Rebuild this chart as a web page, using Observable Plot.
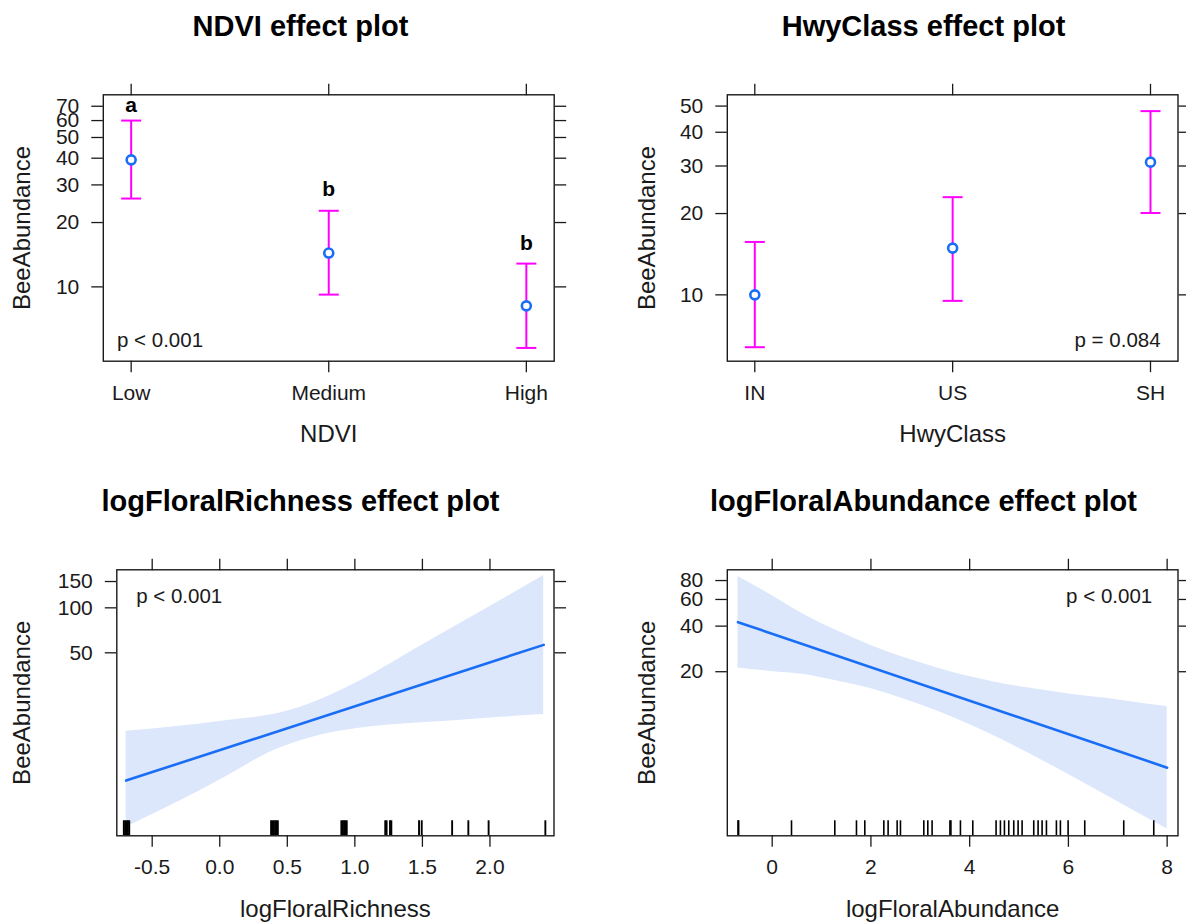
<!DOCTYPE html>
<html>
<head>
<meta charset="utf-8">
<script src="https://cdn.jsdelivr.net/npm/d3@7"></script>
<script src="https://cdn.jsdelivr.net/npm/@observablehq/plot@0.6"></script>
<style>
  html, body { margin: 0; padding: 0; background: #fff; }
  #root { position: relative; width: 1186px; height: 923px; overflow: hidden; background: #fff; }
  .panel { position: absolute; }
</style>
</head>
<body>
<div id="root"></div>
<script>
// ---------------- data ----------------
// NDVI effect plot
const ndviLevels = ["Low", "Medium", "High"];
const ndviFit = [39.3, 14.4, 8.15];
const ndviLower = [25.9, 9.2, 5.18];
const ndviUpper = [60, 22.7, 12.85];
const ndviLetters = ["a", "b", "b"];
const ndviLetterY = [70.6, 28.5, 16.0];
const ndviTicks = [10, 20, 30, 40, 50, 60, 70];
const ndviP = "p < 0.001";

// HwyClass effect plot
const hwyLevels = ["IN", "US", "SH"];
const hwyFit = [10.0, 14.9, 31.0];
const hwyLower = [6.4, 9.5, 20.1];
const hwyUpper = [15.7, 23.0, 47.9];
const hwyTicks = [10, 20, 30, 40, 50];
const hwyP = "p = 0.084";

// logFloralRichness effect plot
const richLineX = [-0.693, 2.398];
const richLineY = [6.98, 56.5];
const richBandX = [-0.693, -0.389, -0.143, 0.104, 0.351, 0.597, 0.844, 1.091, 1.338, 1.584, 1.831, 2.078, 2.398];
const richBandUpper = [14.9, 15.8, 16.7, 17.8, 19.0, 21.6, 26.6, 34.4, 46.3, 62.3, 83.6, 112, 164.6];
const richBandLower = [3.40, 4.63, 5.99, 7.94, 10.6, 12.9, 14.7, 15.9, 16.6, 17.2, 17.8, 18.5, 19.3];
const richRug = [-0.71, -0.70, -0.69, -0.68, -0.67, 0.38, 0.39, 0.40, 0.41, 0.42, 0.43,
  0.90, 0.91, 0.92, 0.93, 0.94, 1.225, 1.235, 1.26, 1.27, 1.475, 1.495, 1.72, 1.84, 1.99, 2.41];
const richXTicks = [-0.5, 0, 0.5, 1, 1.5, 2];
const richYTicks = [50, 100, 150];
const richP = "p < 0.001";

// logFloralAbundance effect plot
const abunLineX = [-0.693, 8.0];
const abunLineY = [42.5, 4.65];
const abunBandX = [-0.693, -0.034, 0.640, 1.316, 1.991, 2.666, 3.342, 4.017, 4.691, 5.368, 6.042, 6.717, 7.393, 8.0];
const abunBandUpper = [85.1, 64.5, 47.8, 37.3, 29.9, 24.8, 21.2, 18.5, 16.6, 15.3, 14.2, 13.4, 12.5, 11.8];
const abunBandLower = [21.2, 20.1, 19.2, 17.4, 15.5, 13.2, 11.0, 8.88, 7.02, 5.41, 4.13, 3.11, 2.35, 1.83];
const abunRug = [-0.693, -0.68, 0.391, 1.268, 1.707, 1.876, 2.261, 2.348, 2.531, 2.598, 3.071, 3.152, 3.239,
  3.60, 3.62, 3.813, 4.063, 4.535, 4.623, 4.704, 4.792, 4.893, 4.981, 5.062, 5.298, 5.386, 5.467, 5.555,
  5.757, 5.838, 5.994, 6.331, 7.121, 7.729];
const abunXTicks = [0, 2, 4, 6, 8];
const abunYTicks = [20, 40, 60, 80];
const abunP = "p < 0.001";

// ---------------- styling ----------------
const FONT = "'Liberation Sans', Arial, Helvetica, sans-serif";
const BLUE = "#1a6ef5";
const BAND = "#dce7fc";
const MAGENTA = "#ff00ff";
const INK = "#1a1a1a";
const baseStyle = {fontFamily: FONT, fontSize: "21px", color: INK, background: "white", overflow: "visible"};

const capSymbol = {draw(ctx, size) { const r = Math.sqrt(size / Math.PI); ctx.moveTo(-r, 0); ctx.lineTo(r, 0); }};

function axes(xTicks, xFormat, yTicks) {
  return [
    Plot.axisX({anchor: "bottom", ticks: xTicks, tickFormat: xFormat, tickSize: 11.5, tickPadding: 12, fontSize: 21, stroke: INK, fill: INK, strokeWidth: 1.3, label: null}),
    Plot.axisX({anchor: "top", ticks: xTicks, tickSize: 11.5, stroke: INK, fill: "none", strokeWidth: 1.3, label: null}),
    Plot.axisY({anchor: "left", ticks: yTicks, text: d => String(d), tickSize: 11.5, tickPadding: 12.5, fontSize: 21, stroke: INK, fill: INK, strokeWidth: 1.3, label: null}),
    Plot.axisY({anchor: "right", ticks: yTicks, tickSize: 11.5, stroke: INK, fill: "none", strokeWidth: 1.3, label: null})
  ];
}

function labels({title, titleDx, xLabel, yDx}) {
  return [
    Plot.text([title], {frameAnchor: "top", lineAnchor: "bottom", textAnchor: "middle", dx: titleDx, dy: -59, fontSize: 29, fontWeight: "bold", fill: "black"}),
    Plot.text([xLabel], {frameAnchor: "bottom", lineAnchor: "bottom", textAnchor: "middle", dy: 81, fontSize: 24, fill: INK}),
    Plot.text(["BeeAbundance"], {frameAnchor: "left", rotate: -90, lineAnchor: "bottom", textAnchor: "middle", dx: yDx, fontSize: 24, fill: INK})
  ];
}

function place(svg, left, top) {
  const d = document.createElement("div");
  d.className = "panel";
  d.style.left = left + "px";
  d.style.top = top + "px";
  d.appendChild(svg);
  document.getElementById("root").appendChild(d);
}

// ---------------- panel 1: NDVI ----------------
const ndviRows = ndviLevels.map((level, i) => ({level, fit: ndviFit[i], lower: ndviLower[i], upper: ndviUpper[i], letter: ndviLetters[i], ly: ndviLetterY[i]}));
const p1 = Plot.plot({
  width: 593, height: 461,
  marginLeft: 102.8, marginRight: 39.3, marginTop: 94.3, marginBottom: 100.3,
  style: baseStyle,
  x: {type: "point", domain: ndviLevels, padding: 0.141, round: false},
  y: {type: "log", domain: [4.49, 79.2]},
  marks: [
    Plot.ruleX(ndviRows, {x: "level", y1: "lower", y2: "upper", stroke: MAGENTA, strokeWidth: 2}),
    Plot.dot(ndviRows, {x: "level", y: "upper", symbol: capSymbol, r: 10, stroke: MAGENTA, strokeWidth: 2, fill: "none"}),
    Plot.dot(ndviRows, {x: "level", y: "lower", symbol: capSymbol, r: 10, stroke: MAGENTA, strokeWidth: 2, fill: "none"}),
    Plot.dot(ndviRows, {x: "level", y: "fit", r: 4.5, stroke: BLUE, strokeWidth: 2.6, fill: "white"}),
    Plot.text(ndviRows, {x: "level", y: "ly", text: "letter", fontSize: 21, fontWeight: "bold", lineAnchor: "middle", fill: "black"}),
    Plot.text([ndviP], {frameAnchor: "bottom-left", textAnchor: "start", lineAnchor: "bottom", dx: 13.7, dy: -14, fontSize: 20.5, fill: INK}),
    ...axes(undefined, undefined, ndviTicks),
    Plot.frame({stroke: INK, strokeWidth: 1.4}),
    ...labels({title: "NDVI effect plot", titleDx: 300 - 328.25, xLabel: "NDVI", yDx: -73.2})
  ]
});
place(p1, 0, 0);

// ---------------- panel 2: HwyClass ----------------
const hwyRows = hwyLevels.map((level, i) => ({level, fit: hwyFit[i], lower: hwyLower[i], upper: hwyUpper[i]}));
const p2 = Plot.plot({
  width: 593, height: 461,
  marginLeft: 133.8, marginRight: 8.5, marginTop: 94.3, marginBottom: 100.3,
  style: baseStyle,
  x: {type: "point", domain: hwyLevels, padding: 0.139, round: false},
  y: {type: "log", domain: [5.68, 55.05]},
  marks: [
    Plot.ruleX(hwyRows, {x: "level", y1: "lower", y2: "upper", stroke: MAGENTA, strokeWidth: 2}),
    Plot.dot(hwyRows, {x: "level", y: "upper", symbol: capSymbol, r: 10, stroke: MAGENTA, strokeWidth: 2, fill: "none"}),
    Plot.dot(hwyRows, {x: "level", y: "lower", symbol: capSymbol, r: 10, stroke: MAGENTA, strokeWidth: 2, fill: "none"}),
    Plot.dot(hwyRows, {x: "level", y: "fit", r: 4.5, stroke: BLUE, strokeWidth: 2.6, fill: "white"}),
    Plot.text([hwyP], {frameAnchor: "bottom-right", textAnchor: "end", lineAnchor: "bottom", dx: -17.4, dy: -14, fontSize: 20.5, fill: INK}),
    ...axes(undefined, undefined, hwyTicks),
    Plot.frame({stroke: INK, strokeWidth: 1.4}),
    ...labels({title: "HwyClass effect plot", titleDx: 923 - 952.15, xLabel: "HwyClass", yDx: -72.2})
  ]
});
place(p2, 593, 0);

// ---------------- panel 3: logFloralRichness ----------------
const richBand = richBandX.map((x, i) => ({x, lo: richBandLower[i], hi: richBandUpper[i]}));
const richLine = richLineX.map((x, i) => ({x, y: richLineY[i]}));
const p3 = Plot.plot({
  width: 593, height: 462,
  marginLeft: 116.3, marginRight: 39.5, marginTop: 108.3, marginBottom: 87.7,
  style: baseStyle,
  x: {type: "linear", domain: [-0.762, 2.474]},
  y: {type: "log", domain: [2.98, 179.7]},
  marks: [
    Plot.areaY(richBand, {x: "x", y1: "lo", y2: "hi", fill: BAND, curve: "monotone-x"}),
    Plot.line(richLine, {x: "x", y: "y", stroke: BLUE, strokeWidth: 2.6}),
    Plot.ruleX(richRug, {x: d => d, insetTop: 266 - 15, stroke: "black", strokeWidth: 1.9}),
    Plot.text([richP], {frameAnchor: "top-left", textAnchor: "start", lineAnchor: "bottom", dx: 19.4, dy: 33, fontSize: 20.5, fill: INK}),
    ...axes(richXTicks, d => d.toFixed(1), richYTicks),
    Plot.frame({stroke: INK, strokeWidth: 1.4}),
    ...labels({title: "logFloralRichness effect plot", titleDx: 300 - 334.9, xLabel: "logFloralRichness", yDx: -86.7})
  ]
});
place(p3, 0, 461);

// ---------------- panel 4: logFloralAbundance ----------------
const abunBand = abunBandX.map((x, i) => ({x, lo: abunBandLower[i], hi: abunBandUpper[i]}));
const abunLine = abunLineX.map((x, i) => ({x, y: abunLineY[i]}));
const p4 = Plot.plot({
  width: 593, height: 462,
  marginLeft: 133.8, marginRight: 8.5, marginTop: 108.3, marginBottom: 87.7,
  style: baseStyle,
  x: {type: "linear", domain: [-0.9095, 8.22]},
  y: {type: "log", domain: [1.65, 94.2]},
  marks: [
    Plot.areaY(abunBand, {x: "x", y1: "lo", y2: "hi", fill: BAND, curve: "monotone-x"}),
    Plot.line(abunLine, {x: "x", y: "y", stroke: BLUE, strokeWidth: 2.6}),
    Plot.ruleX(abunRug, {x: d => d, insetTop: 266 - 15, stroke: "black", strokeWidth: 1.6}),
    Plot.text([abunP], {frameAnchor: "top-right", textAnchor: "end", lineAnchor: "bottom", dx: -25.8, dy: 33, fontSize: 20.5, fill: INK}),
    ...axes(abunXTicks, d => String(d), abunYTicks),
    Plot.frame({stroke: INK, strokeWidth: 1.4}),
    ...labels({title: "logFloralAbundance effect plot", titleDx: 923 - 952.15, xLabel: "logFloralAbundance", yDx: -72.2})
  ]
});
place(p4, 593, 461);
</script>
</body>
</html>
